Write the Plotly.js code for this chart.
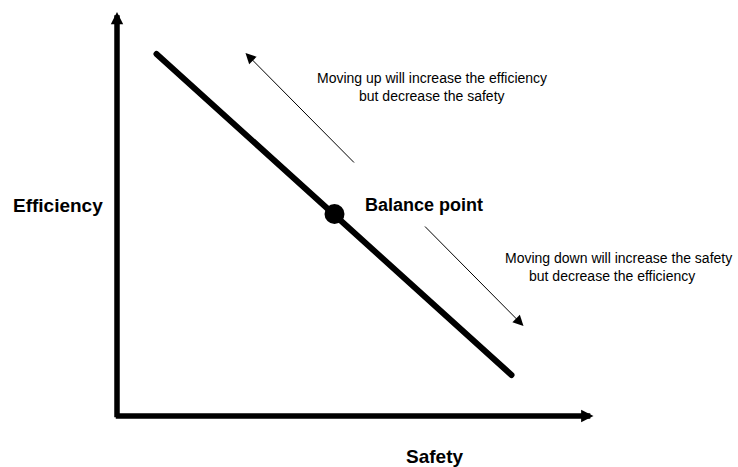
<!DOCTYPE html>
<html>
<head>
<meta charset="utf-8">
<script src="https://cdn.plot.ly/plotly-3.0.1.min.js"></script>
<style>
  html, body { margin: 0; padding: 0; background: #fff; }
  #chart { width: 738px; height: 467px; }
  .scatterlayer .js-line { stroke-linecap: round; }
</style>
</head>
<body>
<div id="chart"></div>
<script>
// Conceptual trade-off diagram (data units: x = safety, y = efficiency)
var tradeoffX = [0.79, 7.89];
var tradeoffY = [9.05, 1.025];
var balanceX = [4.35];
var balanceY = [5.05];

var axisOrigin = [0, 0];
var xAxisTip = [9.53, 0];
var yAxisTip = [0, 10.1];

var upArrowTail = [4.77, 6.3];
var upArrowTip = [2.57, 9.075];
var downArrowTail = [6.13, 4.775];
var downArrowTip = [8.13, 2.25];

var axisLabels = ["Safety", "Efficiency"];
var pointLabel = "Balance point";
var upNote = ["Moving up will increase the efficiency", "but decrease the safety"];
var downNote = ["Moving down will increase the safety", "but decrease the efficiency"];

var FONT = "Liberation Sans, Arial, Helvetica, sans-serif";

var traces = [
  {
    x: tradeoffX, y: tradeoffY, mode: "lines", type: "scatter",
    line: { color: "#000", width: 6 }, hoverinfo: "skip"
  },
  {
    x: balanceX, y: balanceY, mode: "markers", type: "scatter",
    marker: { color: "#000", size: 20, line: { width: 0 } }, hoverinfo: "skip"
  }
];

function arrow(tail, tip, width, size) {
  return {
    x: tip[0], y: tip[1], ax: tail[0], ay: tail[1],
    xref: "x", yref: "y", axref: "x", ayref: "y",
    text: "", showarrow: true, arrowhead: 2, arrowsize: size,
    arrowwidth: width, arrowcolor: "#000", standoff: 0, startstandoff: 0
  };
}
function label(text, x, y, size, bold) {
  return {
    x: x, y: y, xref: "x", yref: "y", text: text, showarrow: false,
    xanchor: "center", yanchor: "middle",
    font: { family: FONT, size: size, color: "#000", weight: bold ? "bold" : "normal" }
  };
}

var annotations = [
  arrow([axisOrigin[0], axisOrigin[1] - 2.75 / 40], yAxisTip, 5.5, 0.45),
  arrow([axisOrigin[0] - 2.75 / 50, axisOrigin[1]], xAxisTip, 5.5, 0.45),
  arrow(upArrowTail, upArrowTip, 1, 2.1),
  arrow(downArrowTail, downArrowTip, 1, 2.1),
  label(axisLabels[1], -1.19, 5.275, 19, true),
  label(axisLabels[0], 6.34, -1.0, 19, true),
  label(pointLabel, 6.14, 5.275, 18, true),
  label(upNote[0], 6.29, 8.46, 14, false),
  label(upNote[1], 6.30, 7.995, 14, false),
  label(downNote[0], 10.03, 3.955, 14, false),
  label(downNote[1], 9.90, 3.49, 14, false)
];

var layout = {
  width: 738, height: 467,
  margin: { l: 0, r: 0, t: 0, b: 0, pad: 0 },
  paper_bgcolor: "#fff", plot_bgcolor: "#fff",
  showlegend: false,
  xaxis: { range: [-117 / 50, 621 / 50], visible: false, fixedrange: true },
  yaxis: { range: [-51 / 40, 416 / 40], visible: false, fixedrange: true },
  annotations: annotations
};

Plotly.newPlot("chart", traces, layout, { displayModeBar: false, staticPlot: true });
</script>
</body>
</html>
